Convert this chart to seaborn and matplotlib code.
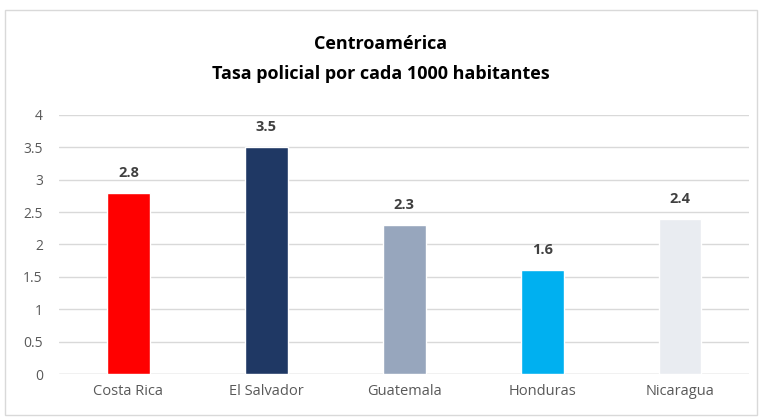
import pandas as pd
import matplotlib.pyplot as plt
import seaborn as sns
from matplotlib.patches import Rectangle

paises = ['Costa Rica', 'El Salvador', 'Guatemala', 'Honduras', 'Nicaragua']
tasas = [2.8, 3.5, 2.3, 1.6, 2.4]
cores = ['#FF0000', '#1F3864', '#97A6BD', '#00B0F0', '#E9ECF1']

df = pd.DataFrame({'pais': paises, 'tasa': tasas})

sns.set_style('white')
plt.rcParams['font.family'] = ['Open Sans', 'DejaVu Sans']

fig = plt.figure(figsize=(7.62, 4.19), dpi=100)
ax = fig.add_axes([0.078, 0.107, 0.905, 0.619])

sns.barplot(data=df, x='pais', y='tasa', hue='pais', palette=cores,
            width=0.31, legend=False, ax=ax, saturation=1)

ax.set_ylim(0, 4)
ax.set_xlim(-0.5, 4.5)
ax.set_yticks([0, 0.5, 1, 1.5, 2, 2.5, 3, 3.5, 4])
ax.set_yticklabels(['0', '0.5', '1', '1.5', '2', '2.5', '3', '3.5', '4'])
ax.yaxis.grid(True, color='#D9D9D9', linewidth=1)
ax.set_axisbelow(True)
for s in ['top', 'right', 'left', 'bottom']:
    ax.spines[s].set_visible(False)
ax.axhline(0, color='#D9D9D9', linewidth=1, zorder=0)
ax.tick_params(axis='both', length=0, labelsize=10, colors='#595959')
ax.tick_params(axis='x', pad=7, labelsize=10.5)
ax.tick_params(axis='y', pad=12)
ax.set_xlabel('')
ax.set_ylabel('')

for i, v in enumerate(tasas):
    ax.text(i, v + 0.2, str(v), ha='center', va='bottom', fontsize=10.5,
            fontweight='bold', color='#404040')

fig.text(0.5, 0.895, 'Centroamérica', ha='center', va='center',
         fontsize=13, fontweight='bold', color='black')
fig.text(0.5, 0.823, 'Tasa policial por cada 1000 habitantes', ha='center',
         va='center', fontsize=13, fontweight='bold', color='black')

fig.patches.append(Rectangle((0.007, 0.01), 0.986, 0.965, transform=fig.transFigure,
                             fill=False, edgecolor='#D9D9D9', linewidth=1))

plt.savefig('out.png', dpi=100)
